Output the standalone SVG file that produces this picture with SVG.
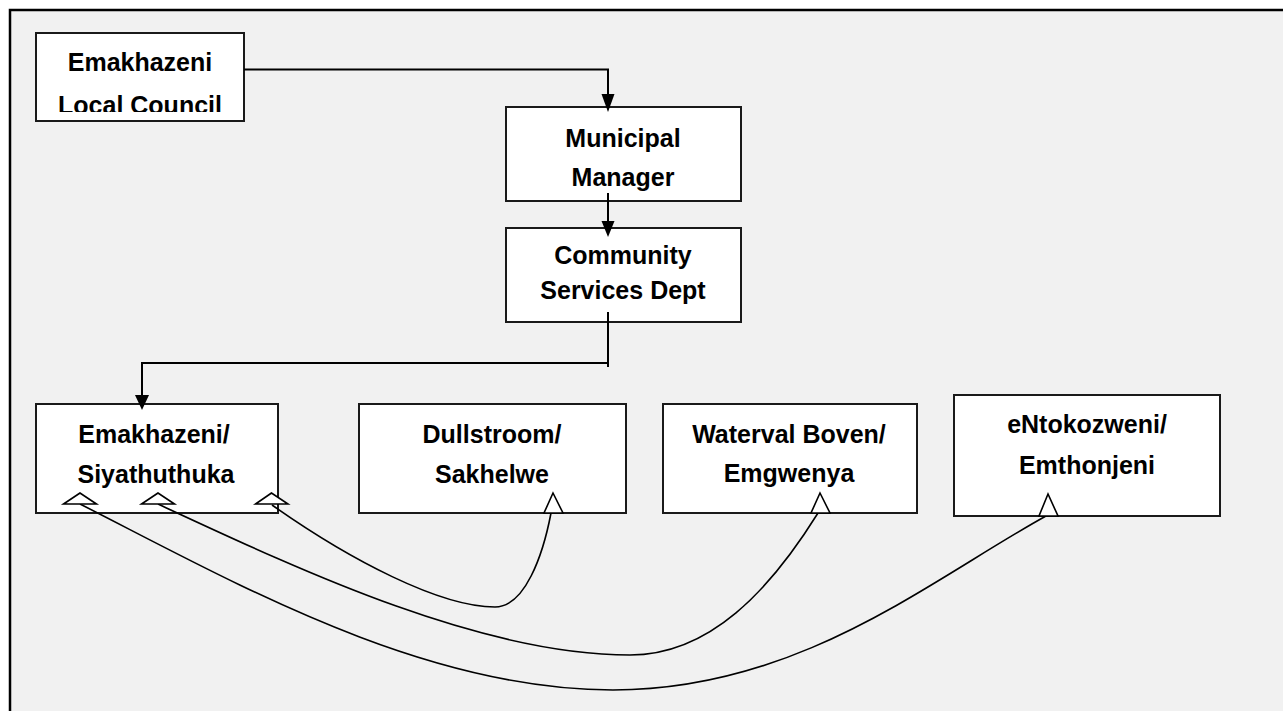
<svg xmlns="http://www.w3.org/2000/svg" width="1283" height="711" viewBox="0 0 1283 711">
<style>
.box{fill:#ffffff;stroke:#1a1a1a;stroke-width:2}
.t{font-family:"Liberation Sans",Arial,sans-serif;font-weight:bold;font-size:25px;fill:#000;text-anchor:middle}
.ln{fill:none;stroke:#000;stroke-width:2}
.cv{fill:none;stroke:#000;stroke-width:1.6}
.open{fill:#ffffff;stroke:#000;stroke-width:1.6;stroke-linejoin:miter}
.head{fill:#000}
</style>
<defs>
<clipPath id="c1"><rect x="36" y="33" width="208" height="79"/></clipPath>
</defs>
<rect x="0" y="0" width="1283" height="711" fill="#ffffff"/>
<rect x="10" y="10" width="1273" height="701" fill="#f1f1f1"/>
<path d="M10,711 V10 H1283" fill="none" stroke="#000" stroke-width="2.5"/>

<g id="node-council">
<rect class="box" x="36" y="33" width="208" height="88"/>
<text class="t" x="140" y="71">Emakhazeni</text>
<text class="t" x="140" y="114" clip-path="url(#c1)">Local Council</text>
</g>
<g id="node-manager">
<rect class="box" x="506" y="107" width="235" height="94"/>
<text class="t" x="623" y="147">Municipal</text>
<text class="t" x="623" y="186">Manager</text>
</g>
<g id="node-community">
<rect class="box" x="506" y="228" width="235" height="94"/>
<text class="t" x="623" y="264">Community</text>
<text class="t" x="623" y="299">Services Dept</text>
</g>
<g id="node-emakhazeni">
<rect class="box" x="36" y="404" width="242" height="109"/>
<text class="t" x="154" y="443">Emakhazeni/</text>
<text class="t" x="156" y="483">Siyathuthuka</text>
</g>
<g id="node-dullstroom">
<rect class="box" x="359" y="404" width="267" height="109"/>
<text class="t" x="492" y="443">Dullstroom/</text>
<text class="t" x="492" y="483">Sakhelwe</text>
</g>
<g id="node-waterval">
<rect class="box" x="663" y="404" width="254" height="109"/>
<text class="t" x="789" y="443">Waterval Boven/</text>
<text class="t" x="789" y="482">Emgwenya</text>
</g>
<g id="node-entokozweni">
<rect class="box" x="954" y="395" width="266" height="121"/>
<text class="t" x="1087" y="433">eNtokozweni/</text>
<text class="t" x="1087" y="474">Emthonjeni</text>
</g>

<g id="connectors">
<path class="ln" d="M244,69.5 H608 V94"/>
<path class="head" d="M601.5,94 L614.5,94 L608,112 Z"/>
<path class="ln" d="M608,193 V221"/>
<path class="head" d="M601.5,221 L614.5,221 L608,237 Z"/>
<path class="ln" d="M608,312 V367 M608,363 H142 V395"/>
<path class="head" d="M135,395 L149,395 L142,410 Z"/>
<path class="cv" d="M272,505 C350,560 440,607 495,607 C525,607 543,555 551,513"/>
<path class="cv" d="M158,504 C300,570 480,655 630,655 C710,655 770,590 818,513"/>
<path class="cv" d="M80,504 C230,580 420,690 613,690 C800,690 930,580 1046,516"/>
<polygon class="open" points="80,493 63.5,504 96.5,504"/>
<polygon class="open" points="158,493 141.5,504 174.5,504"/>
<polygon class="open" points="271.5,493 255.5,504 288,504"/>
<polygon class="open" points="553,493 544,513 563,513"/>
<polygon class="open" points="820,493 811,513 830,513"/>
<polygon class="open" points="1048,494 1039,516 1058,516"/>
</g>
</svg>
